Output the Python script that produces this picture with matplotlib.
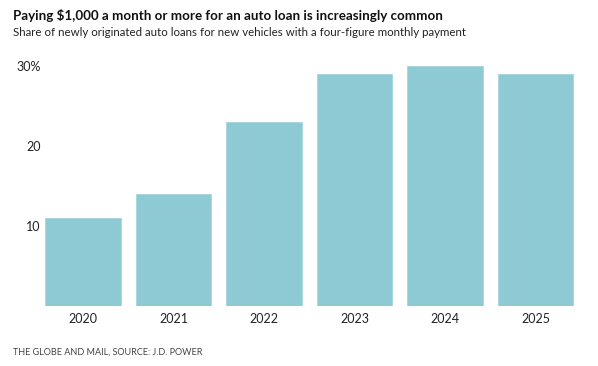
import matplotlib
matplotlib.use("Agg")
import matplotlib.pyplot as plt

years = ["2020", "2021", "2022", "2023", "2024", "2025"]
share = [11, 14, 23, 29, 30, 29]
yticks = [10, 20, 30]
ytick_labels = ["10", "20", "30%"]

plt.rcParams['font.family'] = ['Lato', 'DejaVu Sans']

fig = plt.figure(figsize=(5.98, 3.66), dpi=100)
W, H = 598, 366
left, right, bottom, top = 37.75, 580.75, 306, 58
ax = fig.add_axes([left / W, 1 - bottom / H, (right - left) / W, (bottom - top) / H])

x = list(range(len(years)))
ax.bar(x, share, width=0.83, color="#8ECAD4", edgecolor="#A6D6DE", linewidth=0.6)
ax.set_xlim(-0.5, 5.5)
ax.set_ylim(0, 31)
ax.set_xticks(x)
ax.set_xticklabels(years, fontsize=9, color="#222222")
ax.set_yticks(yticks)
ax.set_yticklabels(ytick_labels, fontsize=9, color="#222222")
ax.tick_params(axis='both', length=0)
ax.tick_params(axis='x', pad=5)
ax.tick_params(axis='y', pad=-2)
for s in ax.spines.values():
    s.set_visible(False)

fig.text(13 / W, 1 - 15 / H, "Paying $1,000 a month or more for an auto loan is increasingly common",
         fontsize=9.6, fontweight='bold', color="#111111", va='center', ha='left')
fig.text(13 / W, 1 - 32 / H, "Share of newly originated auto loans for new vehicles with a four-figure monthly payment",
         fontsize=8.3, color="#222222", va='center', ha='left')
fig.text(13 / W, 1 - 352 / H, "THE GLOBE AND MAIL, SOURCE: J.D. POWER",
         fontsize=6.5, color="#444444", va='center', ha='left')

fig.savefig("out.png", dpi=100)
